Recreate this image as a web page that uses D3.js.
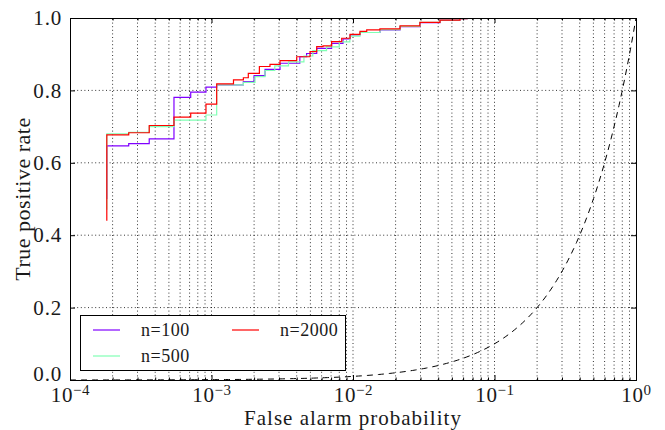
<!DOCTYPE html>
<html>
<head>
<meta charset="utf-8">
<script src="https://cdn.jsdelivr.net/npm/d3@7"></script>
<style>
  html, body { margin: 0; padding: 0; background: #fff; }
  svg { display: block; }
  svg text { font-family: "Liberation Serif", "DejaVu Serif", serif !important; fill: #1a1a1a; }
</style>
</head>
<body>
<svg id="chart" width="665" height="430"></svg>
<script>
// ROC curves: true positive rate vs false alarm probability (log scale)
const seriesNames = ["n=100", "n=500", "n=2000"];
const seriesColors = ["#8000ff", "#80ffb4", "#ff0000"];

// n=100
const fpr100 = [1.82e-4, 1.82e-4, 2.6e-4, 3.63e-4, 5.43e-4, 7.13e-4, 9.14e-4, 1.088e-3, 1.68e-3, 2.0e-3, 2.39e-3, 3.05e-3, 4.21e-3, 4.7e-3, 5.54e-3, 7.06e-3, 8.5e-3, 9.53e-3, 0.0112, 0.0155, 0.0215, 0.0297, 0.0412, 0.057, 0.064, 1];
const tpr100 = [0.50, 0.647, 0.653, 0.666, 0.781, 0.795, 0.809, 0.815, 0.824, 0.841, 0.858, 0.875, 0.893, 0.902, 0.916, 0.930, 0.942, 0.953, 0.960, 0.967, 0.976, 0.987, 0.994, 0.998, 1.0, 1.0];

// n=500
const fpr500 = [1.82e-4, 1.82e-4, 2.6e-4, 3.63e-4, 5.43e-4, 9.14e-4, 1.088e-3, 1.68e-3, 2.03e-3, 2.39e-3, 2.8e-3, 3.5e-3, 4.5e-3, 5.2e-3, 6.5e-3, 8.0e-3, 9.5e-3, 0.0112, 0.0155, 0.0215, 0.0297, 0.0412, 0.057, 0.064, 1];
const tpr500 = [0.47, 0.680, 0.684, 0.700, 0.718, 0.732, 0.815, 0.822, 0.838, 0.855, 0.868, 0.879, 0.895, 0.910, 0.920, 0.934, 0.950, 0.960, 0.968, 0.977, 0.988, 0.994, 0.998, 1.0, 1.0];

// n=2000
const fpr2000 = [1.82e-4, 1.82e-4, 2.6e-4, 3.63e-4, 5.43e-4, 7.13e-4, 9.14e-4, 1.088e-3, 1.43e-3, 1.68e-3, 1.82e-3, 2.18e-3, 2.59e-3, 3.05e-3, 4.0e-3, 4.97e-3, 5.54e-3, 6.14e-3, 7.06e-3, 8.32e-3, 9.53e-3, 0.0112, 0.0125, 0.0155, 0.0215, 0.0297, 0.0412, 0.057, 0.064, 1];
const tpr2000 = [0.44, 0.677, 0.683, 0.703, 0.726, 0.737, 0.762, 0.818, 0.829, 0.835, 0.847, 0.866, 0.872, 0.882, 0.893, 0.907, 0.921, 0.923, 0.935, 0.944, 0.955, 0.963, 0.967, 0.970, 0.978, 0.988, 0.994, 0.998, 1.0, 1.0];

const xTickExponents = [-4, -3, -2, -1, 0];
const yTickValues = [0.0, 0.2, 0.4, 0.6, 0.8, 1.0];

const FONT = '"Liberation Serif", "DejaVu Serif", serif';
const svg = d3.select("#chart");
const W = 665, H = 430;
const m = { left: 70, right: W - 636, top: 18, bottom: H - 380 };

svg.append("rect").attr("width", W).attr("height", H).attr("fill", "#fff");

const x = d3.scaleLog().domain([1e-4, 1]).range([m.left, W - m.right]);
const y = d3.scaleLinear().domain([0, 1]).range([H - m.bottom, m.top]);

svg.append("defs").append("clipPath").attr("id", "plotclip")
  .append("rect")
  .attr("x", m.left).attr("y", m.top)
  .attr("width", x.range()[1] - x.range()[0])
  .attr("height", y.range()[0] - y.range()[1]);

// dotted grid: every log tick on x, majors on y
const grid = svg.append("g");
grid.selectAll("line.gx")
  .data(x.ticks().filter(v => v > 1e-4 && v < 1))
  .join("line")
  .attr("x1", d => x(d)).attr("x2", d => x(d))
  .attr("y1", y(0)).attr("y2", y(1))
  .attr("stroke", "#000").attr("stroke-width", 0.8)
  .attr("stroke-dasharray", "1,2.6");
grid.selectAll("line.gy")
  .data(yTickValues.filter(v => v > 0 && v < 1))
  .join("line")
  .attr("x1", x(1e-4)).attr("x2", x(1))
  .attr("y1", d => y(d)).attr("y2", d => y(d))
  .attr("stroke", "#000").attr("stroke-width", 0.8)
  .attr("stroke-dasharray", "1,2.6");

const plot = svg.append("g").attr("clip-path", "url(#plotclip)");

// chance line y = x
const diag = d3.range(-4, 0.0001, 0.02).map(e => Math.pow(10, e));
plot.append("path")
  .datum(diag)
  .attr("fill", "none").attr("stroke", "#000").attr("stroke-width", 1)
  .attr("stroke-dasharray", "6,5")
  .attr("d", d3.line().x(d => x(d)).y(d => y(d)));

// step ROC curves
const series = [
  { fpr: fpr100, tpr: tpr100 },
  { fpr: fpr500, tpr: tpr500 },
  { fpr: fpr2000, tpr: tpr2000 }
];
const stepLine = d3.line().x(d => x(d[0])).y(d => y(d[1])).curve(d3.curveStepAfter);
series.forEach((s, i) => {
  plot.append("path")
    .datum(s.fpr.map((f, j) => [f, s.tpr[j]]))
    .attr("fill", "none")
    .attr("stroke", seriesColors[i])
    .attr("stroke-width", 1.2)
    .attr("d", stepLine);
});

// axes with inward ticks on all four sides
const fontTick = 21;
const yAxis = d3.axisLeft(y).tickValues(yTickValues).tickFormat(d3.format(".1f"))
  .tickSize(-5).tickPadding(8);
const gy = svg.append("g").attr("transform", `translate(${m.left},0)`).call(yAxis);
gy.selectAll("text").attr("font-size", fontTick).attr("letter-spacing", "0.8px");
// keep the 0.0 label clear of the 10^-4 label below it
gy.selectAll(".tick text").filter(d => d === 0).attr("dy", "0.0em");

svg.append("g").attr("transform", `translate(${W - m.right},0)`)
  .call(d3.axisRight(y).tickValues(yTickValues).tickFormat("").tickSize(-5));

const xMajor = xTickExponents.map(e => Math.pow(10, e));
const xMinor = x.ticks().filter(v => !xMajor.some(t => Math.abs(t - v) / t < 1e-9));

const gx = svg.append("g").attr("transform", `translate(0,${H - m.bottom})`)
  .call(d3.axisBottom(x).tickValues(xMajor).tickFormat("").tickSize(-5));
svg.append("g").attr("transform", `translate(0,${H - m.bottom})`)
  .call(d3.axisBottom(x).tickValues(xMinor).tickFormat("").tickSize(-2.5));
svg.append("g").attr("transform", `translate(0,${m.top})`)
  .call(d3.axisTop(x).tickValues(xMajor).tickFormat("").tickSize(-5));
svg.append("g").attr("transform", `translate(0,${m.top})`)
  .call(d3.axisTop(x).tickValues(xMinor).tickFormat("").tickSize(-2.5));

svg.selectAll("g").attr("font-family", FONT);
svg.selectAll(".domain").attr("stroke", "#000").attr("stroke-width", 1);
svg.selectAll(".tick line").attr("stroke", "#000");

// power-of-ten labels
gx.selectAll(".tick").each(function(d, i) {
  const t = d3.select(this).append("text")
    .attr("y", 22).attr("fill", "#1a1a1a")
    .attr("text-anchor", "middle")
    .attr("font-size", fontTick)
    .attr("letter-spacing", "0.6px");
  t.append("tspan").text("10");
  t.append("tspan").attr("dy", "-0.5em").attr("font-size", 15).text(xTickExponents[i] < 0 ? "\u2212" + Math.abs(xTickExponents[i]) : String(xTickExponents[i]));
});

// axis titles
svg.append("text")
  .attr("x", (x.range()[0] + x.range()[1]) / 2).attr("y", 425)
  .attr("text-anchor", "middle").attr("font-size", 21).attr("letter-spacing", "1px")
  .text("False alarm probability");
svg.append("text")
  .attr("transform", `translate(30,${(y.range()[0] + y.range()[1]) / 2}) rotate(-90)`)
  .attr("text-anchor", "middle").attr("font-size", 22).attr("letter-spacing", "0.5px")
  .text("True positive rate");

// legend
const lg = svg.append("g");
lg.append("rect").attr("x", 80.5).attr("y", 315.5).attr("width", 265).attr("height", 55)
  .attr("fill", "#fff").attr("stroke", "#000").attr("stroke-width", 1);
const legendPos = [
  { lx: 93, ly: 330, tx: 141 },
  { lx: 93, ly: 356, tx: 141 },
  { lx: 232, ly: 330, tx: 280 }
];
seriesNames.forEach((name, i) => {
  const p = legendPos[i];
  lg.append("line").attr("x1", p.lx).attr("x2", p.lx + 27).attr("y1", p.ly).attr("y2", p.ly)
    .attr("stroke", seriesColors[i]).attr("stroke-width", 1.2);
  lg.append("text").attr("x", p.tx).attr("y", p.ly + 6).attr("font-size", 18)
    .attr("letter-spacing", "0.5px").text(name);
});
</script>
</body>
</html>
